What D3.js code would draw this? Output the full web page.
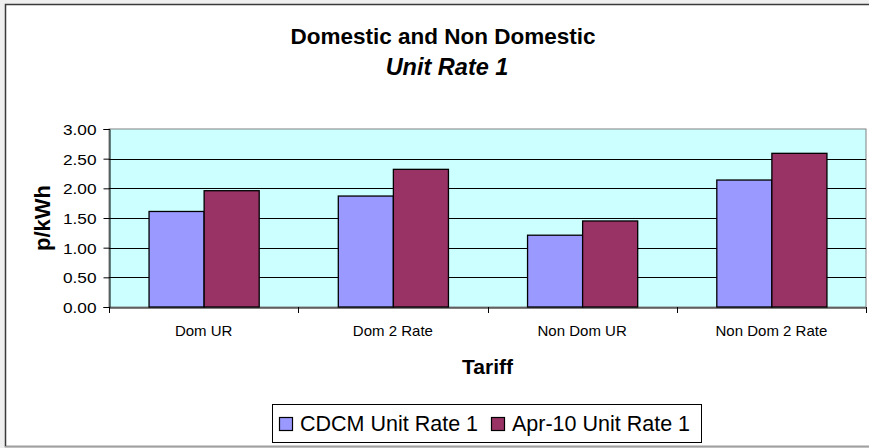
<!DOCTYPE html>
<html><head><meta charset="utf-8">
<script src="https://cdn.jsdelivr.net/npm/d3@7"></script>
<style>
html,body{margin:0;padding:0;background:#efefef;}
svg{display:block;font-family:"Liberation Sans",Arial,sans-serif;}
</style></head>
<body><svg id="c" width="869" height="448"></svg>
<script>
const categories = ["Dom UR", "Dom 2 Rate", "Non Dom UR", "Non Dom 2 Rate"];
const seriesNames = ["CDCM Unit Rate 1", "Apr-10 Unit Rate 1"];
const cdcmValues = [1.61, 1.87, 1.21, 2.14];
const apr10Values = [1.96, 2.32, 1.45, 2.59];
const yTicks = [0, 0.5, 1.0, 1.5, 2.0, 2.5, 3.0];
const titleText = "Domestic and Non Domestic";
const subtitleText = "Unit Rate 1";
const xTitle = "Tariff";
const yTitle = "p/kWh";
const colors = ["#9999ff", "#993366"];

const seriesValues = [cdcmValues, apr10Values];
const svg = d3.select("#c");

// chart frame
svg.append("rect").attr("x",0).attr("y",0).attr("width",869).attr("height",448).attr("fill","#efefef");
svg.append("rect").attr("x",5.5).attr("y",4.5).attr("width",900).attr("height",442)
  .attr("fill","#ffffff").attr("stroke","#3a3a3a").attr("stroke-width",1.5);
svg.append("line").attr("x1",5).attr("x2",869).attr("y1",446.5).attr("y2",446.5).attr("stroke","#a0a0a0");

const plot = {left:109, right:866, top:129, bottom:307};
const x0 = d3.scaleBand().domain(categories).range([plot.left, plot.right]).padding(0);
const bw = x0.bandwidth();
const x1 = d3.scaleBand().domain(seriesNames).range([bw*0.209, bw*0.791]).padding(0);
const y = d3.scaleLinear().domain([0,3]).range([plot.bottom, plot.top]);

// plot area
svg.append("rect").attr("x",plot.left).attr("y",plot.top)
  .attr("width",plot.right-plot.left).attr("height",plot.bottom-plot.top)
  .attr("fill","#ccffff").attr("stroke","#808080").attr("stroke-width",1);

// gridlines
svg.append("g").selectAll("line").data(yTicks.filter(d=>d>0 && d<3)).join("line")
  .attr("x1",plot.left).attr("x2",plot.right)
  .attr("y1",d=>Math.round(y(d))+0.5).attr("y2",d=>Math.round(y(d))+0.5)
  .attr("stroke","#000").attr("stroke-width",1);

// bars
const groups = svg.append("g").selectAll("g").data(categories).join("g")
  .attr("transform",c=>`translate(${x0(c)},0)`);
groups.selectAll("rect").data((c,i)=>seriesNames.map((s,j)=>({s, v:seriesValues[j][i], j})))
  .join("rect")
  .attr("x",d=>x1(d.s)+0.5).attr("width",x1.bandwidth())
  .attr("y",d=>y(d.v)).attr("height",d=>y(0)-y(d.v))
  .attr("fill",d=>colors[d.j]).attr("stroke","#000").attr("stroke-width",1.3);

// y axis
const yAxis = svg.append("g").attr("transform",`translate(${plot.left+0.5},0)`)
  .call(d3.axisLeft(y).tickValues(yTicks).tickFormat(d3.format(".2f")).tickSize(6).tickPadding(7));
yAxis.select(".domain").attr("stroke","#000");
yAxis.selectAll(".tick line").attr("stroke","#000");
yAxis.selectAll("text").attr("font-size",15).attr("fill","#000")
  .attr("font-family","'Liberation Sans',Arial,sans-serif").attr("dy","0.36em")
  .each(function(){ const w=this.getComputedTextLength(); d3.select(this).attr("textLength",w*1.15).attr("lengthAdjust","spacingAndGlyphs"); });

// x axis
const xAxis = svg.append("g").attr("transform",`translate(0,${plot.bottom+0.5})`)
  .call(d3.axisBottom(x0).tickSize(0).tickPadding(18));
xAxis.select(".domain").attr("stroke","#000");
xAxis.selectAll("text").attr("font-size",15).attr("fill","#000")
  .attr("font-family","'Liberation Sans',Arial,sans-serif");
const bounds = categories.map(c=>x0(c)).concat([x0(categories[categories.length-1])+bw]);
svg.append("g").selectAll("line").data(bounds).join("line")
  .attr("x1",d=>Math.round(d)+0.5).attr("x2",d=>Math.round(d)+0.5)
  .attr("y1",plot.bottom).attr("y2",plot.bottom+6).attr("stroke","#000");

// titles
svg.append("text").attr("x",443).attr("y",44).attr("text-anchor","middle")
  .attr("font-size",22.5).attr("font-weight","bold").text(titleText);
svg.append("text").attr("x",447).attr("y",75).attr("text-anchor","middle")
  .attr("font-size",23.5).attr("font-weight","bold").attr("font-style","italic").text(subtitleText);
svg.append("text").attr("x",(plot.left+plot.right)/2).attr("y",374).attr("text-anchor","middle")
  .attr("font-size",21).attr("font-weight","bold").text(xTitle);
svg.append("text").attr("transform",`translate(50,${(plot.top+plot.bottom)/2}) rotate(-90)`)
  .attr("text-anchor","middle").attr("font-size",22).attr("font-weight","bold").text(yTitle);

// legend
const lg = svg.append("g");
lg.append("rect").attr("x",272.5).attr("y",404.5).attr("width",429).attr("height",38)
  .attr("fill","#fff").attr("stroke","#000").attr("stroke-width",1);
const legX = [279, 491];
seriesNames.forEach((s,i)=>{
  lg.append("rect").attr("x",legX[i]+0.5).attr("y",417.5).attr("width",13).attr("height",13)
    .attr("fill",colors[i]).attr("stroke","#000").attr("stroke-width",1.2);
  lg.append("text").attr("x",legX[i]+21).attr("y",431).attr("font-size",21.5).text(s);
});
</script></body></html>
